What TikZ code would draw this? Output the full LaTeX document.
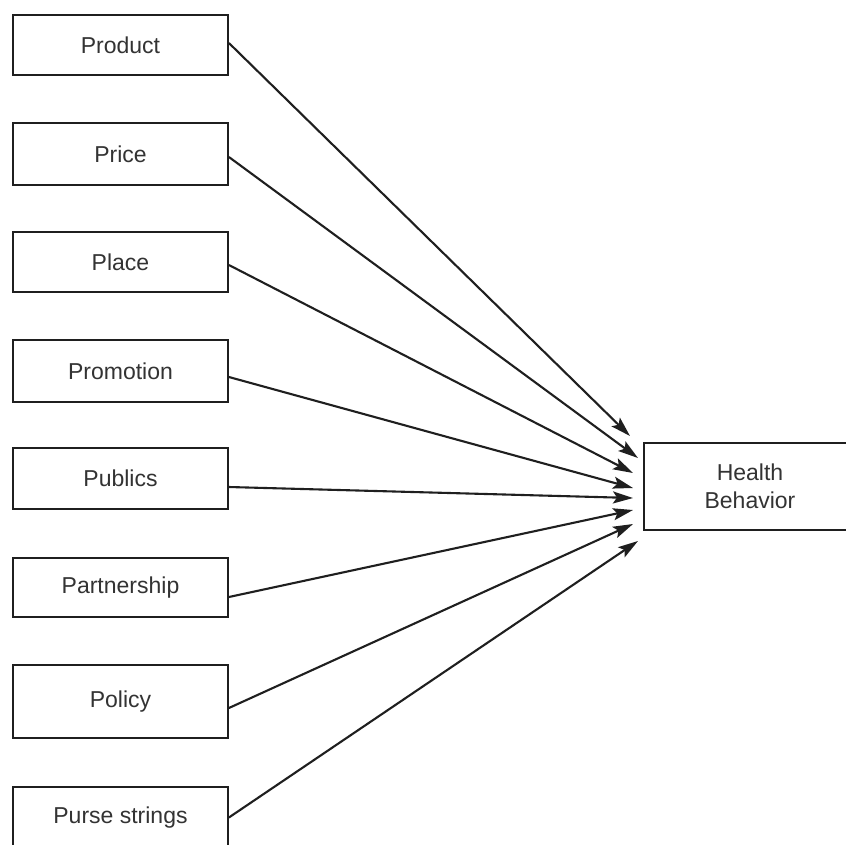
\documentclass[tikz,border=0pt]{standalone}
\usepackage{fontspec}
\setmainfont{Liberation Sans}
\usetikzlibrary{arrows.meta}
\begin{document}
\begin{tikzpicture}[x=1pt,y=-1pt,
  box/.style={draw=black!88, line width=1.8pt, minimum width=215pt, inner sep=0pt,
    text=black!80, font=\fontsize{23}{28}\selectfont, align=center},
  link/.style={draw=black!88, line width=2.1pt,
    -{Stealth[length=20pt,width=12pt,inset=4pt]}}]
\useasboundingbox (0,0) rectangle (846,844);
\clip (0,0) rectangle (846,844);
\fill[white] (0,0) rectangle (846,844);

% the eight marketing factors
\node[box, minimum height=60pt] (product)     at (120.5,45)    {Product};
\node[box, minimum height=62pt] (price)       at (120.5,154)   {Price};
\node[box, minimum height=60pt] (place)       at (120.5,262)   {Place};
\node[box, minimum height=62pt] (promotion)   at (120.5,371)   {Promotion};
\node[box, minimum height=61pt] (publics)     at (120.5,478.5) {Publics};
\node[box, minimum height=59pt] (partnership) at (120.5,587.5) {Partnership};
\node[box, minimum height=73pt] (policy)      at (120.5,701.5) {Policy};
\node[box, minimum height=61pt] (purse)       at (120.5,817.5) {Purse strings};

% outcome
\node[box, minimum width=212pt, minimum height=87pt] (health) at (750,486.5) {Health\\Behavior};

% arrow tips, fanned in front of the outcome box
\coordinate (t1) at (630,436);
\coordinate (t2) at (638,458);
\coordinate (t3) at (633,473);
\coordinate (t4) at (633,488);
\coordinate (t5) at (633,498);
\coordinate (t6) at (633,510);
\coordinate (t7) at (633,524);
\coordinate (t8) at (638,541);

\draw[link] ([yshift=2pt]product.east)      -- (t1);
\draw[link] ([yshift=-3pt]price.east)       -- (t2);
\draw[link] ([yshift=-3pt]place.east)       -- (t3);
\draw[link] ([yshift=-6pt]promotion.east)   -- (t4);
\draw[link] ([yshift=-8.5pt]publics.east)   -- (t5);
\draw[link] ([yshift=-9.5pt]partnership.east) -- (t6);
\draw[link] ([yshift=-6.5pt]policy.east)    -- (t7);
\draw[link] (purse.east)                    -- (t8);
\end{tikzpicture}
\end{document}
